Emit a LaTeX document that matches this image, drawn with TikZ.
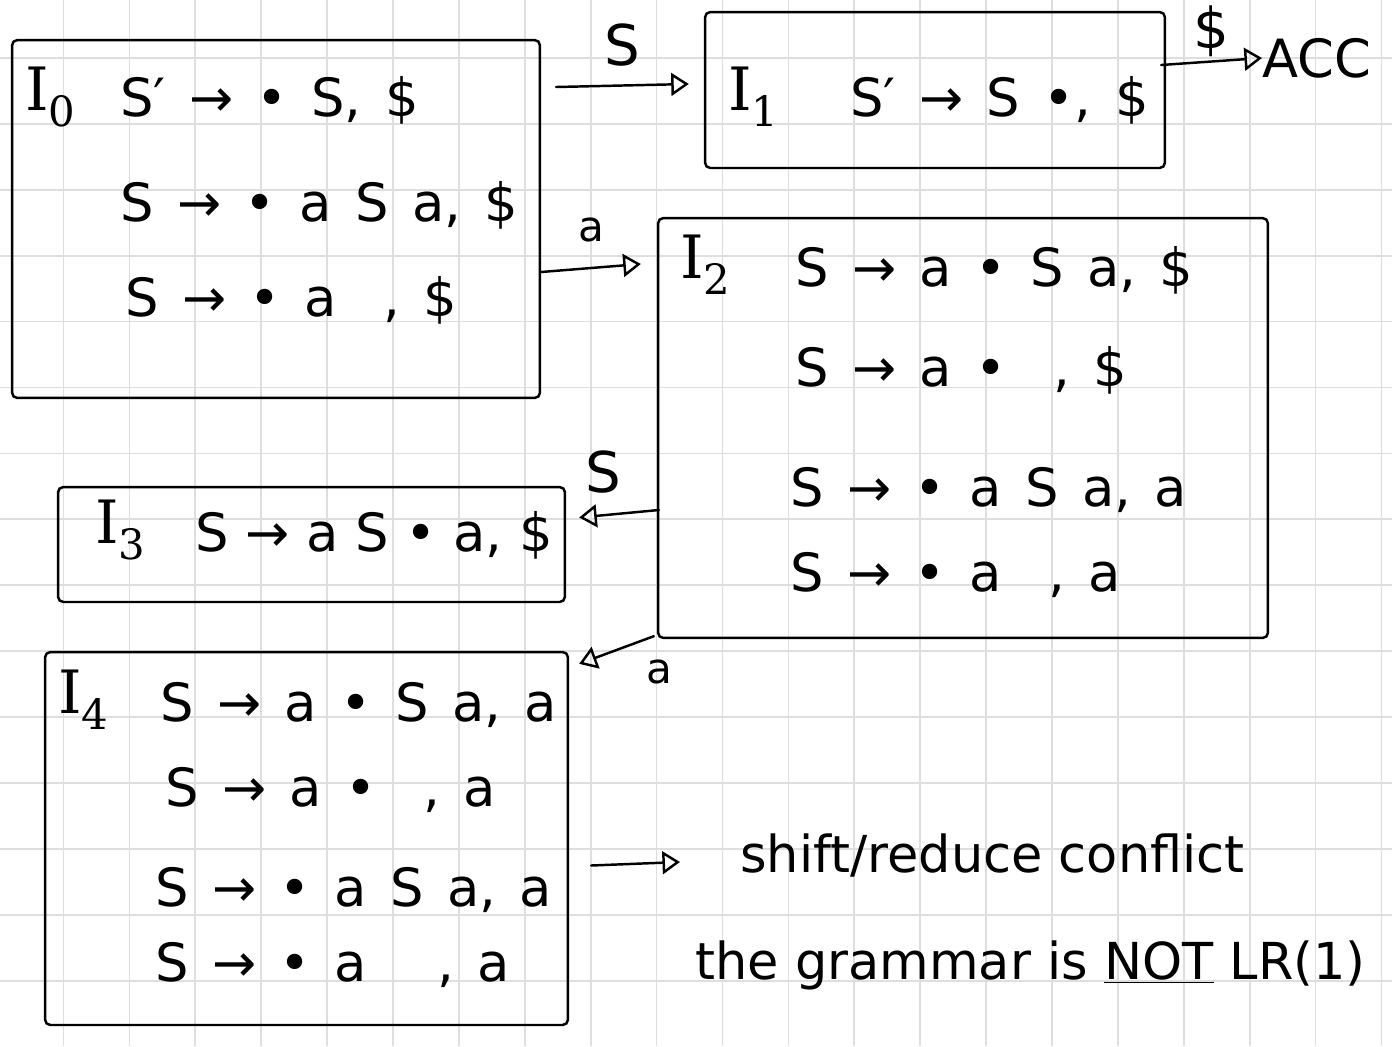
\documentclass[tikz,border=0pt]{standalone}
\usepackage{fontspec}
\setmainfont{DejaVu Sans}
\newfontfamily\setfont{DejaVu Serif}
\newfontfamily\itemfont[WordSpace=1.4]{DejaVu Sans}
\usetikzlibrary{arrows.meta}
\definecolor{gridgray}{HTML}{DEDEDE}

\begin{document}
\begin{tikzpicture}[x=0.02cm, y=-0.02cm,
  state/.style={draw, line width=1.4pt, rounded corners=3pt, inner sep=0pt},
  item/.style={anchor=west, inner sep=0pt, font=\itemfont\fontsize{30}{36}\selectfont},
  tightitem/.style={anchor=west, inner sep=0pt, font=\fontsize{30}{36}\selectfont},
  setname/.style={anchor=west, inner sep=0pt, font=\setfont\fontsize{34}{40}\selectfont},
  note/.style={anchor=west, inner sep=0pt, font=\fontsize{29}{34}\selectfont},
  lbl/.style={inner sep=0pt, font=\fontsize{32}{38}\selectfont},
  small/.style={inner sep=0pt, font=\fontsize{24}{28}\selectfont},
  arr/.style={-{Triangle[open,length=10pt,width=13pt]}, line width=1.4pt, line cap=round},
  gridline/.style={draw=gridgray, line width=1pt}
]
  \useasboundingbox (0,0) rectangle (1392,1046);
  \fill[white] (0,0) rectangle (1392,1046);
  % squared paper
  \foreach \i in {0,...,20}
    \draw[gridline] ({63.5+65.9*\i},0) -- ({63.5+65.9*\i},1046);
  \foreach \j in {0,...,14}
    \draw[gridline] (0,{58+65.9*\j}) -- (1392,{58+65.9*\j});

  % item sets
  \node[state, minimum width=10.56cm, minimum height=7.16cm] (I0) at (276,219) {};
  \node[state, minimum width=9.2cm, minimum height=3.12cm] (I1) at (935,90) {};
  \node[state, minimum width=12.2cm, minimum height=8.4cm] (I2) at (963,428) {};
  \node[state, minimum width=10.14cm, minimum height=2.3cm] (I3) at (311.5,544.5) {};
  \node[state, minimum width=10.46cm, minimum height=7.46cm] (I4) at (306.5,838.5) {};

  \node[setname] (n0) at (25,97) {I\textsubscript{0}};
  \node[item] (i0a) at (120,100) {S′ → • S, \$};
  \node[item] (i0b) at (120,205) {S → • a S a, \$};
  \node[item] (i0c) at (125,300) {S → • a \ , \$};

  \node[setname] (n1) at (728,97) {I\textsubscript{1}};
  \node[item] (i1a) at (850,100) {S′ → S •, \$};

  \node[setname] (n2) at (680,265) {I\textsubscript{2}};
  \node[item] (i2a) at (795,270) {S → a • S a, \$};
  \node[item] (i2b) at (795,370) {S → a • \ , \$};
  \node[item] (i2c) at (790,490) {S → • a S a, a};
  \node[item] (i2d) at (790,575) {S → • a \ , a};

  \node[setname] (n3) at (95,530) {I\textsubscript{3}};
  \node[tightitem] (i3a) at (195,535) {S → a S • a, \$};

  \node[setname] (n4) at (58,700) {I\textsubscript{4}};
  \node[item] (i4a) at (160,705) {S → a • S a, a};
  \node[item] (i4b) at (165,790) {S → a • \ , a};
  \node[item] (i4c) at (155,890) {S → • a S a, a};
  \node[item] (i4d) at (155,965) {S → • a \ \ , a};

  \node[anchor=west, inner sep=0pt, font=\fontsize{30}{34}\selectfont] (acc) at (1262,58) {ACC};
  \node[note] (conf) at (740,855) {shift/reduce conflict};
  \node[note] (verdict) at (695,965) {the grammar is \underline{NOT} LR(1)};

  % transitions
  \draw[arr] ([shift={(15,-132)}]I0.east) -- node[lbl, above=10pt] {S} ([shift={(-15,-6)}]I1.west);
  \draw[arr] ([shift={(0,53)}]I0.east) -- node[small, above=14pt] {a} ([shift={(-16,-164)}]I2.west);
  \draw[arr] ([shift={(-5,-25)}]I1.east) -- node[lbl, above=2pt] {\$} (acc.west);
  \draw[arr] ([shift={(2,82)}]I2.west) -- node[lbl, pos=0.7, above=12pt] {S} ([shift={(13,-27)}]I3.east);
  \draw[arr] ([shift={(-3,-3)}]I2.south west) -- node[small, pos=0.3, below right=8pt] {a} ([shift={(10,13)}]I4.north east);
  \draw[arr] ([shift={(22,27)}]I4.east) -- ([shift={(-60,7)}]conf.west);
\end{tikzpicture}
\end{document}
